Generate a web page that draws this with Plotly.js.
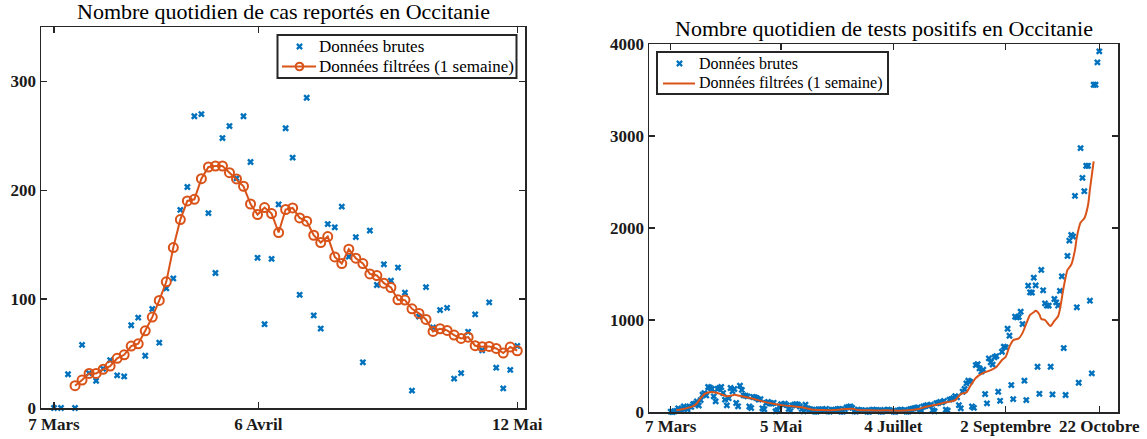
<!DOCTYPE html>
<html><head><meta charset="utf-8">
<script src="https://cdn.plot.ly/plotly-3.0.1.min.js"></script>
<style>html,body{margin:0;padding:0;background:#fff;}#chart{width:1147px;height:439px;}</style>
</head><body><div id="chart"></div>
<script>
// ---- Left chart: daily reported cases (7 Mars -> 12 Mai 2020)
const casStart = '2020-03-07';
const casBruts = [
  0, 0, 31, 0, 58, 32, 25, 36, 44, 30,
  29, 76, 83, 48, 91, 60, 110, 119, 182, 203,
  268, 270, 179, 124, 248, 259, 211, 268, 226, 138,
  77, 137, 187, 257, 230, 104, 285, 85, 73, 169,
  166, 185, 139, 157, 42, 163, 113, 132, 117, 129,
  106, 16, 84, 111, 74, 90, 92, 27, 32, 70,
  86, 53, 97, 37, 18, 35, 57
];
const casFiltresStart = '2020-03-10';
const casFiltres = [
  20.5, 25.7, 31.8, 31.8, 35.5, 38.5, 45.6, 48.9, 56.9, 59,
  70.9, 83.5, 98.8, 115.9, 147.4, 173.1, 190.2, 191.7, 210.7, 221.4,
  222.3, 222.3, 216.2, 210.4, 203.7, 187.4, 177.7, 184.1, 178.6, 161.2,
  182.3, 183.8, 174.6, 171.6, 158.7, 152, 157.5, 138.8, 132.7, 145.9,
  137.6, 132.7, 123.2, 121.7, 114.7, 110.7, 99.4, 99.1, 91.1, 86.9,
  81.4, 70.3, 72.8, 71.3, 67, 63.9, 65.1, 57.2, 56.3, 56.6,
  54.7, 50.5, 56, 52.6
];
const casTickVals = ['2020-03-07', '2020-04-05 02:30', '2020-05-12'];
const casTickText = ['7 Mars', '6 Avril', '12 Mai'];

// ---- Right chart: daily positive tests (7 Mars -> 22 Octobre 2020)
const testsStart = '2020-03-07';
const testsBruts = [
  3, 0, 8, 12, 40, 25, 35, 60, 45, 30,
  62, 55, 85, 90, 116, 70, 130, 188, 206, 180,
  272, 265, 250, 170, 116, 250, 261, 272, 206, 134,
  72, 150, 261, 225, 250, 98, 62, 286, 240, 180,
  178, 170, 60, 43, 163, 160, 150, 134, 140, 40,
  30, 98, 110, 95, 90, 100, 7, 20, 62, 85,
  80, 90, 75, 33, 10, 70, 80, 85, 80, 60,
  33, 8, 80, 40, 30, 28, 25, 5, 3, 30,
  28, 25, 20, 35, 8, 4, 25, 22, 20, 30,
  35, 5, 3, 30, 50, 55, 60, 45, 8, 5,
  25, 20, 18, 15, 20, 3, 2, 20, 25, 18,
  22, 20, 4, 3, 22, 18, 25, 20, 15, 5,
  2, 15, 20, 25, 18, 22, 3, 5, 30, 35,
  40, 45, 50, 15, 10, 60, 65, 75, 70, 80,
  20, 8, 95, 100, 110, 105, 120, 25, 15, 134,
  140, 150, 173, 160, 75, 40, 220, 250, 311, 340,
  330, 60, 45, 510, 520, 474, 440, 460, 195, 94,
  583, 540, 515, 595, 608, 220, 122, 655, 710, 703,
  905, 829, 293, 140, 1036, 1029, 1033, 1090, 956, 340,
  130, 1373, 1301, 1298, 1460, 1376, 492, 198, 1544, 1323,
  1181, 1156, 1156, 492, 191, 1228, 1192, 1156, 1316, 1475,
  695, 185, 1696, 1863, 1925, 1907, 2349, 1138, 318, 2868,
  2545, 2400, 2676, 2676, 1210, 420, 3557, 3557, 3800, 3920
];
const testsFiltresDates = [
  '2020-03-10','2020-03-13','2020-03-16','2020-03-19','2020-03-21','2020-03-23','2020-03-25','2020-03-27',
  '2020-03-29','2020-03-31','2020-04-02','2020-04-04','2020-04-06','2020-04-08','2020-04-10','2020-04-12',
  '2020-04-16','2020-04-21','2020-04-26','2020-05-01','2020-05-06','2020-05-11','2020-05-16','2020-05-19',
  '2020-05-22','2020-05-26','2020-05-31','2020-06-05','2020-06-09','2020-06-12','2020-06-15','2020-06-20',
  '2020-06-25','2020-06-30','2020-07-05','2020-07-10','2020-07-15','2020-07-18','2020-07-21','2020-07-26',
  '2020-07-31','2020-08-06','2020-08-09','2020-08-12','2020-08-14','2020-08-17','2020-08-21','2020-08-25',
  '2020-08-28','2020-08-31','2020-09-02','2020-09-04','2020-09-06','2020-09-09','2020-09-11','2020-09-13',
  '2020-09-15','2020-09-17','2020-09-18','2020-09-20','2020-09-21','2020-09-23','2020-09-25','2020-09-26',
  '2020-09-28','2020-09-30','2020-10-01','2020-10-03','2020-10-05','2020-10-07','2020-10-09','2020-10-10',
  '2020-10-12','2020-10-14','2020-10-16','2020-10-17','2020-10-19'
];
const testsFiltres = [
  18, 30, 45, 65, 95, 150, 195, 212,
  218, 212, 200, 185, 172, 176, 188, 180,
  162, 138, 110, 90, 72, 62, 52, 38,
  24, 22, 20, 25, 33, 35, 22, 18,
  17, 18, 15, 16, 25, 35, 55, 75,
  100, 130, 195, 212, 280, 370, 425, 455,
  490, 565, 600, 710, 780, 800, 860, 960,
  1055, 1085, 1100, 1060, 1010, 1000, 950, 935,
  990, 1040, 1120, 1360, 1545, 1600, 1760, 1900,
  2060, 2105, 2250, 2420, 2723
];
const testsTickVals = ['2020-03-07','2020-05-05','2020-07-04','2020-09-02','2020-10-22'];
const testsTickText = ['7 Mars','5 Mai','4 Juillet','2 Septembre','22 Octobre'];

const nomBrutes = 'Données brutes';
const nomFiltrees = 'Données filtrées (1 semaine)';
const titreGauche = 'Nombre quotidien de cas reportés en Occitanie';
const titreDroite = 'Nombre quotidien de tests positifs en Occitanie';

function dayList(start, n) {
  const t0 = Date.parse(start + 'T00:00:00Z'), out = [];
  for (let i = 0; i < n; i++) out.push(new Date(t0 + i * 86400000).toISOString().slice(0, 10));
  return out;
}

const BLUE = '#0072BD', ORANGE = '#D95319', AX = '#262626';
const W = 1147, H = 439;
const px = x => x / W, py = y => 1 - y / H;
const SERIF = '"Liberation Serif", "Times New Roman", serif';

const traces = [
  {x: dayList(casStart, casBruts.length), y: casBruts, type: 'scatter', mode: 'markers', name: nomBrutes,
   marker: {symbol: 'x', size: 6, color: BLUE}, xaxis: 'x', yaxis: 'y', cliponaxis: false},
  {x: dayList(casFiltresStart, casFiltres.length), y: casFiltres, type: 'scatter', mode: 'lines+markers', name: nomFiltrees,
   line: {color: ORANGE, width: 2}, marker: {symbol: 'circle-open', size: 9, color: ORANGE, line: {width: 2, color: ORANGE}},
   xaxis: 'x', yaxis: 'y', cliponaxis: false},
  {x: dayList(testsStart, testsBruts.length), y: testsBruts, type: 'scatter', mode: 'markers', name: nomBrutes,
   marker: {symbol: 'x', size: 6, color: BLUE}, xaxis: 'x2', yaxis: 'y2', cliponaxis: false},
  {x: testsFiltresDates, y: testsFiltres, type: 'scatter', mode: 'lines', name: nomFiltrees,
   line: {color: ORANGE, width: 2, shape: 'spline', smoothing: 0.6}, xaxis: 'x2', yaxis: 'y2'}
];

const tickFont = {family: SERIF, size: 17, weight: 'bold', color: '#1a1a1a'};
function axis(extra) {
  return Object.assign({
    showline: true, linecolor: AX, linewidth: 1.5, mirror: 'ticks',
    ticks: 'inside', ticklen: 6, tickwidth: 1.5, tickcolor: AX, tickangle: 0,
    showgrid: false, zeroline: false, tickfont: tickFont, fixedrange: true
  }, extra);
}

// Legend drawn as layout decorations (box, sample line/markers, labels)
function legendShapes(box, row1, row2, symX, lineX0, lineX1, withCircle) {
  const s = [];
  s.push({type: 'rect', xref: 'paper', yref: 'paper', x0: px(box[0]), x1: px(box[2]), y0: py(box[3]), y1: py(box[1]),
          line: {color: AX, width: 2}, fillcolor: '#fff', layer: 'above'});
  const a = 2.6;
  s.push({type: 'path', xref: 'paper', yref: 'paper', layer: 'above', line: {color: BLUE, width: 2.2},
          path: `M ${px(symX - a)},${py(row1 - a)} L ${px(symX + a)},${py(row1 + a)} M ${px(symX - a)},${py(row1 + a)} L ${px(symX + a)},${py(row1 - a)}`});
  s.push({type: 'line', xref: 'paper', yref: 'paper', layer: 'above', line: {color: ORANGE, width: 2},
          x0: px(lineX0), x1: px(lineX1), y0: py(row2), y1: py(row2)});
  if (withCircle) {
    const r = 3.8;
    s.push({type: 'circle', xref: 'paper', yref: 'paper', layer: 'above', line: {color: ORANGE, width: 2}, fillcolor: 'rgba(0,0,0,0)',
            x0: px(symX - r), x1: px(symX + r), y0: py(row2 + r), y1: py(row2 - r)});
  }
  return s;
}
function legendLabels(textX, row1, row2, size) {
  const f = {family: SERIF, size: size, color: '#000'};
  return [
    {text: nomBrutes, xref: 'paper', yref: 'paper', x: px(textX), y: py(row1), xanchor: 'left', yanchor: 'middle', showarrow: false, font: f, borderpad: 0},
    {text: nomFiltrees, xref: 'paper', yref: 'paper', x: px(textX), y: py(row2), xanchor: 'left', yanchor: 'middle', showarrow: false, font: f, borderpad: 0}
  ];
}

const shapes = [].concat(
  legendShapes([277.5, 35, 516.5, 78], 46.5, 66.5, 299.5, 282, 316, true),
  legendShapes([657, 52, 888, 94], 63.5, 83.5, 679.5, 663, 695, false)
);

const titleFont = {family: SERIF, size: 22, color: '#000'};
const annotations = [
  {text: titreGauche, xref: 'paper', yref: 'paper', x: px(283), y: py(12), xanchor: 'center', yanchor: 'middle', showarrow: false, font: titleFont},
  {text: titreDroite, xref: 'paper', yref: 'paper', x: px(883.5), y: py(28), xanchor: 'center', yanchor: 'middle', showarrow: false, font: titleFont}
].concat(legendLabels(318, 46.5, 66.5, 17), legendLabels(698, 63.5, 83.5, 16));

const layout = {
  width: W, height: H, margin: {l: 0, r: 0, t: 0, b: 0},
  paper_bgcolor: '#fff', plot_bgcolor: '#fff', showlegend: false,
  xaxis: axis({domain: [px(41), px(525)], anchor: 'y', type: 'date', ticklabelstandoff: 0,
    range: ['2020-03-05 03:36', '2020-05-13 02:24'], tickmode: 'array', tickvals: casTickVals, ticktext: casTickText}),
  yaxis: axis({domain: [31 / H, 412 / H], anchor: 'x', range: [0, 350], tickmode: 'array', tickvals: [0, 100, 200, 300]}),
  xaxis2: axis({domain: [px(649), px(1118)], anchor: 'y2', type: 'date', ticklabelstandoff: -2,
    range: ['2020-02-24 09:36', '2020-11-01 00:00'], tickmode: 'array', tickvals: testsTickVals, ticktext: testsTickText}),
  yaxis2: axis({domain: [27 / H, 395 / H], anchor: 'x2', range: [0, 4000], tickmode: 'array', tickvals: [0, 1000, 2000, 3000, 4000]}),
  shapes: shapes,
  annotations: annotations
};

Plotly.newPlot('chart', traces, layout, {displayModeBar: false, staticPlot: true});
</script>
</body></html>
